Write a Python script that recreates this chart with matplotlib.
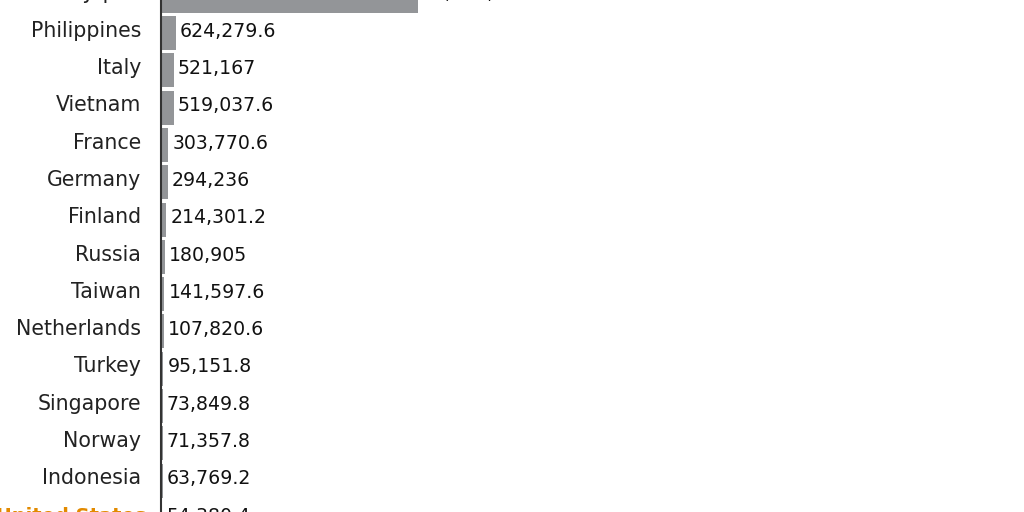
import matplotlib.pyplot as plt
from matplotlib import transforms

# data (top label is cut off in the reference)
countries = ['Japan', 'Philippines', 'Italy', 'Vietnam', 'France', 'Germany',
             'Finland', 'Russia', 'Taiwan', 'Netherlands', 'Turkey',
             'Singapore', 'Norway', 'Indonesia', 'United States']
values = [10652902.4, 624279.6, 521167, 519037.6, 303770.6, 294236,
          214301.2, 180905, 141597.6, 107820.6, 95151.8,
          73849.8, 71357.8, 63769.2, 54380.4]
highlight = 'United States'

gray = '#939598'
orange = '#E28A00'
plt.rcParams['font.family'] = ['DejaVu Sans']

fig = plt.figure(figsize=(10.24, 5.12), dpi=100)
ax = fig.add_axes([161 / 1024, 0, 863 / 1024, 1])

pos = list(range(len(countries)))
colors = [orange if c == highlight else gray for c in countries]
ax.barh(pos, values, height=0.91, color=colors, left=0)

# japan bar ends around x=418px
ax.set_xlim(0, values[0] * 863 / 257)
ax.set_ylim(13.84, 0.115)

for s in ['top', 'right', 'bottom']:
    ax.spines[s].set_visible(False)
ax.spines['left'].set_color('#333333')
ax.spines['left'].set_linewidth(1.5)
ax.set_xticks([])
ax.set_yticks([])

# country names, right aligned left of the axis, baseline a bit under bar centre
name_tr = transforms.offset_copy(ax.get_yaxis_transform(), fig=fig,
                                 x=-20, y=-3.7, units='dots')
us_tr = transforms.offset_copy(ax.get_yaxis_transform(), fig=fig,
                               x=-15, y=-3.7, units='dots')
for p, c in zip(pos, countries):
    if c == highlight:
        ax.text(0, p, c, transform=us_tr, ha='right', va='baseline',
                fontsize=14, color=orange, fontweight='bold')
    else:
        ax.text(0, p, c, transform=name_tr, ha='right', va='baseline',
                fontsize=14.8, color='#222222')

val_tr = transforms.offset_copy(ax.transData, fig=fig, x=4, y=-3.7, units='dots')
for p, v in zip(pos, values):
    txt = f'{v:,.0f}' if v == int(v) else f'{v:,.1f}'
    ax.text(v, p, txt, transform=val_tr, va='baseline', ha='left',
            fontsize=13.6, color='#111111')

fig.savefig('out.png', dpi=100)
